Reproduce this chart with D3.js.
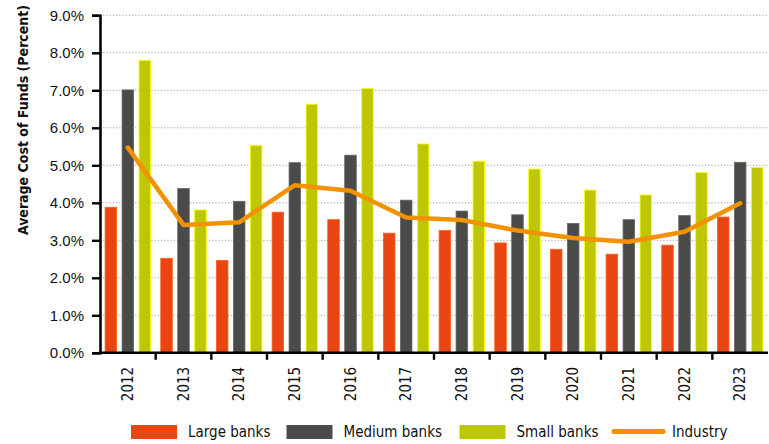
<!DOCTYPE html>
<html>
<head>
<meta charset="utf-8">
<script src="https://cdn.jsdelivr.net/npm/d3@7"></script>
<style>
  html, body { margin: 0; padding: 0; background: #ffffff; }
  svg { display: block; font-family: "DejaVu Sans Condensed", "Liberation Sans Narrow", sans-serif; }
</style>
</head>
<body>
<svg id="chart" width="769" height="444"></svg>
<script>
// Average cost of funds by bank size, 2012-2023 (percent)
const years = ["2012","2013","2014","2015","2016","2017","2018","2019","2020","2021","2022","2023"];
const largeBanks  = [3.88, 2.52, 2.46, 3.75, 3.55, 3.19, 3.26, 2.93, 2.76, 2.63, 2.87, 3.62];
const mediumBanks = [7.01, 4.38, 4.04, 5.07, 5.27, 4.07, 3.78, 3.68, 3.45, 3.55, 3.66, 5.08];
const smallBanks  = [7.80, 3.81, 5.53, 6.63, 7.05, 5.57, 5.11, 4.90, 4.34, 4.21, 4.81, 4.94];
const industry    = [5.47, 3.41, 3.48, 4.47, 4.32, 3.61, 3.54, 3.26, 3.06, 2.96, 3.23, 3.99];
const yTicks = [0, 1, 2, 3, 4, 5, 6, 7, 8, 9];

const seriesNames  = ["Large banks", "Medium banks", "Small banks"];
const seriesValues = [largeBanks, mediumBanks, smallBanks];
const colors = { "Large banks": "#e84513", "Medium banks": "#4a4a48", "Small banks": "#bdc705", "Industry": "#f39200" };

const svg = d3.select("#chart");
const plot = { left: 100, right: 768, top: 15.3, bottom: 352.8 };

const x = d3.scaleBand().domain(years).range([plot.left, plot.right]).padding(0);
const xs = d3.scaleBand().domain(seriesNames).range([0, x.bandwidth()]).paddingInner(0.32).paddingOuter(0.3);
const y = d3.scaleLinear().domain([0, 9]).range([plot.bottom, plot.top]);

// dotted gridlines
svg.append("g")
  .selectAll("line")
  .data(yTicks.filter(d => d > 0))
  .join("line")
  .attr("x1", plot.left).attr("x2", plot.right)
  .attr("y1", d => y(d)).attr("y2", d => y(d))
  .attr("stroke", "#9a9a9a")
  .attr("stroke-width", 1)
  .attr("stroke-dasharray", "1.2,2");

// grouped bars
const rows = years.map((yr, i) => ({ year: yr, vals: seriesNames.map((s, k) => ({ s, v: seriesValues[k][i] })) }));
svg.append("g")
  .selectAll("g")
  .data(rows)
  .join("g")
  .attr("transform", d => `translate(${x(d.year)},0)`)
  .selectAll("rect")
  .data(d => d.vals)
  .join("rect")
  .attr("x", d => xs(d.s))
  .attr("width", xs.bandwidth())
  .attr("y", d => y(d.v))
  .attr("height", d => y(0) - y(d.v))
  .attr("fill", d => colors[d.s])
  .attr("stroke", d => d3.color(colors[d.s]).brighter(0.9))
  .attr("stroke-width", 0.8);

// industry line
const line = d3.line()
  .x((d, i) => x(years[i]) + x.bandwidth() / 2)
  .y(d => y(d));
svg.append("path")
  .datum(industry)
  .attr("d", line)
  .attr("fill", "none")
  .attr("stroke", colors["Industry"])
  .attr("stroke-width", 4.5)
  .attr("stroke-linejoin", "round")
  .attr("stroke-linecap", "round");

// y axis
const yAxis = d3.axisLeft(y)
  .tickValues(yTicks)
  .tickSize(8)
  .tickPadding(8)
  .tickFormat(d => d3.format(".1f")(d) + "%");
const gy = svg.append("g").attr("transform", `translate(${plot.left},0)`).call(yAxis);
gy.select(".domain").attr("stroke", "#000").attr("stroke-width", 2.6);
gy.selectAll(".tick line").attr("stroke", "#000").attr("stroke-width", 2.4);
gy.selectAll(".tick text").attr("font-size", 15).attr("fill", "#111");

// x axis: ticks between year bands
const gx = svg.append("g").attr("transform", `translate(0,${plot.bottom})`);
gx.append("line")
  .attr("x1", plot.left - 1.3).attr("x2", plot.right)
  .attr("y1", 0).attr("y2", 0)
  .attr("stroke", "#000").attr("stroke-width", 2.6);
gx.selectAll("line.tk")
  .data(years.slice(1))
  .join("line")
  .attr("class", "tk")
  .attr("x1", d => x(d)).attr("x2", d => x(d))
  .attr("y1", 0).attr("y2", 7)
  .attr("stroke", "#000").attr("stroke-width", 2.4);
gx.selectAll("text")
  .data(years)
  .join("text")
  .attr("transform", d => `translate(${x(d) + x.bandwidth() / 2},14) rotate(-90)`)
  .attr("dy", "0.35em")
  .attr("text-anchor", "end")
  .attr("font-size", 15)
  .attr("fill", "#111")
  .text(d => d);

// y axis title
svg.append("text")
  .attr("transform", "translate(23,120) rotate(-90)")
  .attr("dy", "0.35em")
  .attr("text-anchor", "middle")
  .attr("font-size", 14)
  .attr("font-weight", "bold")
  .attr("fill", "#111")
  .text("Average Cost of Funds (Percent)");

// legend
const legendItems = [
  { name: "Large banks", type: "rect", x: 131 },
  { name: "Medium banks", type: "rect", x: 286.5 },
  { name: "Small banks", type: "rect", x: 459.5 },
  { name: "Industry", type: "line", x: 614 }
];
const lg = svg.append("g");
legendItems.forEach(it => {
  if (it.type === "rect") {
    lg.append("rect").attr("x", it.x).attr("y", 425).attr("width", 46).attr("height", 14)
      .attr("fill", colors[it.name]);
  } else {
    lg.append("line").attr("x1", it.x).attr("x2", it.x + 49).attr("y1", 431.5).attr("y2", 431.5)
      .attr("stroke", colors[it.name]).attr("stroke-width", 5).attr("stroke-linecap", "round");
  }
  lg.append("text").attr("x", it.x + (it.type === "rect" ? 57 : 58)).attr("y", 432)
    .attr("dy", "0.35em").attr("font-size", 15).attr("fill", "#111").text(it.name);
});
</script>
</body>
</html>
